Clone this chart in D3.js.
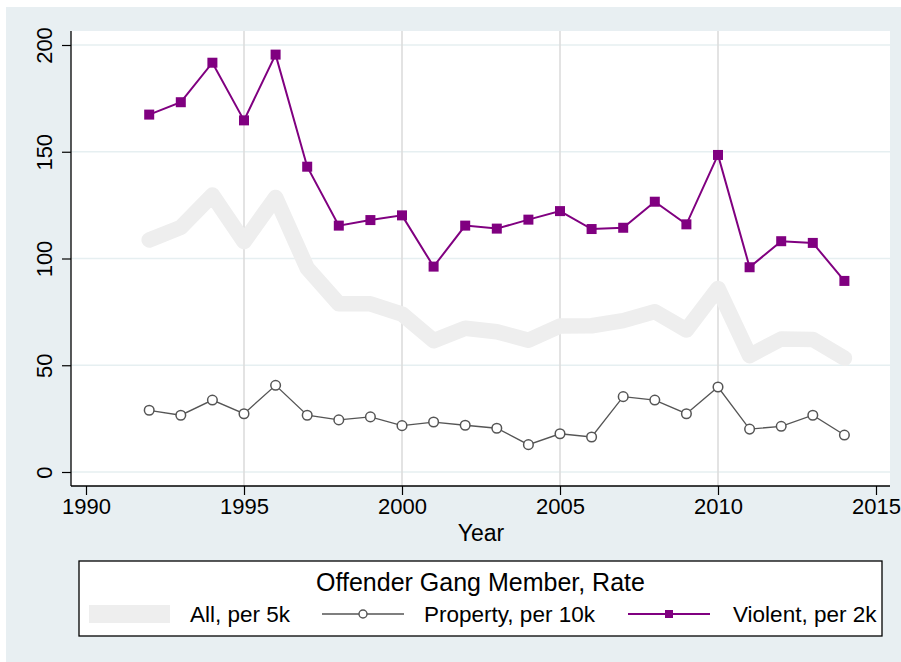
<!DOCTYPE html>
<html>
<head>
<meta charset="utf-8">
<script src="https://cdn.jsdelivr.net/npm/d3@7"></script>
<style>
  html, body { margin: 0; padding: 0; background: #ffffff; }
  svg { display: block; }
  text { font-family: "Liberation Sans", Arial, sans-serif; fill: #000; }
</style>
</head>
<body>
<svg id="chart" width="901" height="662"></svg>
<script>
// Offender gang member rates by year
const years = [1992, 1993, 1994, 1995, 1996, 1997, 1998, 1999, 2000, 2001, 2002, 2003,
               2004, 2005, 2006, 2007, 2008, 2009, 2010, 2011, 2012, 2013, 2014];
const allPer5k = [108.7, 114.6, 129.7, 107.9, 128.6, 95.5, 78.8, 78.8, 74.0, 61.5, 67.3, 65.7,
                  61.7, 68.4, 68.5, 70.9, 75.1, 66.5, 86.0, 54.5, 62.3, 62.1, 53.3];
const propertyPer10k = [28.9, 26.6, 33.7, 27.3, 40.6, 26.6, 24.4, 25.8, 21.7, 23.4, 21.9, 20.5,
                        12.8, 17.9, 16.4, 35.3, 33.7, 27.3, 39.8, 20.1, 21.4, 26.6, 17.3];
const violentPer2k = [167.4, 173.2, 191.7, 164.7, 195.5, 143.0, 115.4, 118.0, 120.2, 96.2, 115.4, 114.0,
                      118.2, 122.2, 113.8, 114.4, 126.6, 116.0, 148.5, 95.9, 108.1, 107.3, 89.5];

const xTicks = [1990, 1995, 2000, 2005, 2010, 2015];
const yTicks = [0, 50, 100, 150, 200];
const xGridYears = [1995, 2000, 2005, 2010];

const legendTitle = "Offender Gang Member, Rate";
const seriesNames = ["All, per 5k", "Property, per 10k", "Violent, per 2k"];
const xTitle = "Year";

const svg = d3.select("#chart");

// graph region background
svg.append("rect").attr("x", 6).attr("y", 7).attr("width", 895).attr("height", 655)
  .attr("fill", "#e8eff2");

// plot region
const plot = { left: 71, right: 890, top: 31, bottom: 486 };
svg.append("rect").attr("x", plot.left).attr("y", plot.top)
  .attr("width", plot.right - plot.left).attr("height", plot.bottom - plot.top)
  .attr("fill", "#ffffff");

const x = d3.scaleLinear().domain([1990, 2015]).range([86, 876]);
const y = d3.scaleLinear().domain([0, 200]).range([472, 45]);

// grid lines
svg.append("g").selectAll("line").data(yTicks).join("line")
  .attr("x1", plot.left).attr("x2", plot.right)
  .attr("y1", d => y(d)).attr("y2", d => y(d))
  .attr("stroke", "#e6eff1").attr("stroke-width", 1.6);
svg.append("g").selectAll("line").data(xGridYears).join("line")
  .attr("x1", d => x(d)).attr("x2", d => x(d))
  .attr("y1", plot.top).attr("y2", plot.bottom)
  .attr("stroke", "#dcdcdc").attr("stroke-width", 1.6);

// series
const pts = v => years.map((yr, i) => [yr, v[i]]);
const line = d3.line().x(d => x(d[0])).y(d => y(d[1]));

svg.append("path").datum(pts(allPer5k)).attr("d", line)
  .attr("fill", "none").attr("stroke", "#eeeeee").attr("stroke-width", 15.5)
  .attr("stroke-linejoin", "round").attr("stroke-linecap", "round");

svg.append("path").datum(pts(propertyPer10k)).attr("d", line)
  .attr("fill", "none").attr("stroke", "#555555").attr("stroke-width", 1.3);
svg.append("g").selectAll("circle").data(pts(propertyPer10k)).join("circle")
  .attr("cx", d => x(d[0])).attr("cy", d => y(d[1])).attr("r", 4.8)
  .attr("fill", "#ffffff").attr("stroke", "#555555").attr("stroke-width", 1.5);

svg.append("path").datum(pts(violentPer2k)).attr("d", line)
  .attr("fill", "none").attr("stroke", "#800080").attr("stroke-width", 2);
svg.append("g").selectAll("rect").data(pts(violentPer2k)).join("rect")
  .attr("x", d => x(d[0]) - 5).attr("y", d => y(d[1]) - 5)
  .attr("width", 10).attr("height", 10).attr("fill", "#800080");

// axes
const xAxis = d3.axisBottom(x).tickValues(xTicks).tickFormat(d3.format("d"))
  .tickSize(9).tickPadding(3);
const gx = svg.append("g").attr("transform", `translate(0,${plot.bottom})`).call(xAxis);
gx.select(".domain").attr("d", `M${plot.left},0H${plot.right}`).attr("stroke", "#000").attr("stroke-width", 1.3);
gx.selectAll(".tick line").attr("stroke", "#000").attr("stroke-width", 1.2);
gx.selectAll(".tick text").attr("font-size", 22).attr("font-family", "Liberation Sans, Arial, sans-serif")
  .attr("fill", "#000");

const yAxis = d3.axisLeft(y).tickValues(yTicks).tickSize(9).tickPadding(3);
const gy = svg.append("g").attr("transform", `translate(${plot.left},0)`).call(yAxis);
gy.select(".domain").attr("d", `M0,${plot.top}V${plot.bottom}`).attr("stroke", "#000").attr("stroke-width", 1.3);
gy.selectAll(".tick line").attr("stroke", "#000").attr("stroke-width", 1.2);
gy.selectAll(".tick text")
  .attr("font-size", 22).attr("font-family", "Liberation Sans, Arial, sans-serif").attr("fill", "#000")
  .attr("x", null).attr("dy", null)
  .attr("text-anchor", "middle")
  .attr("transform", "translate(-19,0) rotate(-90)");

svg.append("text").attr("x", 481).attr("y", 541).attr("text-anchor", "middle")
  .attr("font-size", 23).text(xTitle);

// legend
const lg = svg.append("g");
lg.append("rect").attr("x", 79).attr("y", 561).attr("width", 803).attr("height", 75)
  .attr("fill", "#ffffff").attr("stroke", "#000").attr("stroke-width", 1.3);
lg.append("text").attr("x", 480.5).attr("y", 591).attr("text-anchor", "middle")
  .attr("font-size", 25).text(legendTitle);

const rowY = 614;
lg.append("rect").attr("x", 89).attr("y", rowY - 9).attr("width", 81).attr("height", 18)
  .attr("fill", "#eeeeee");
lg.append("line").attr("x1", 322).attr("x2", 404).attr("y1", rowY).attr("y2", rowY)
  .attr("stroke", "#555555").attr("stroke-width", 1.3);
lg.append("circle").attr("cx", 363).attr("cy", rowY).attr("r", 4)
  .attr("fill", "#ffffff").attr("stroke", "#555555").attr("stroke-width", 1.4);
lg.append("line").attr("x1", 628).attr("x2", 710).attr("y1", rowY).attr("y2", rowY)
  .attr("stroke", "#800080").attr("stroke-width", 2);
lg.append("rect").attr("x", 665).attr("y", rowY - 4).attr("width", 8).attr("height", 8)
  .attr("fill", "#800080");

const labelX = [190, 424, 733];
lg.selectAll("text.item").data(seriesNames).join("text").attr("class", "item")
  .attr("x", (d, i) => labelX[i]).attr("y", rowY + 8)
  .attr("font-size", 22.5).text(d => d);
</script>
</body>
</html>
